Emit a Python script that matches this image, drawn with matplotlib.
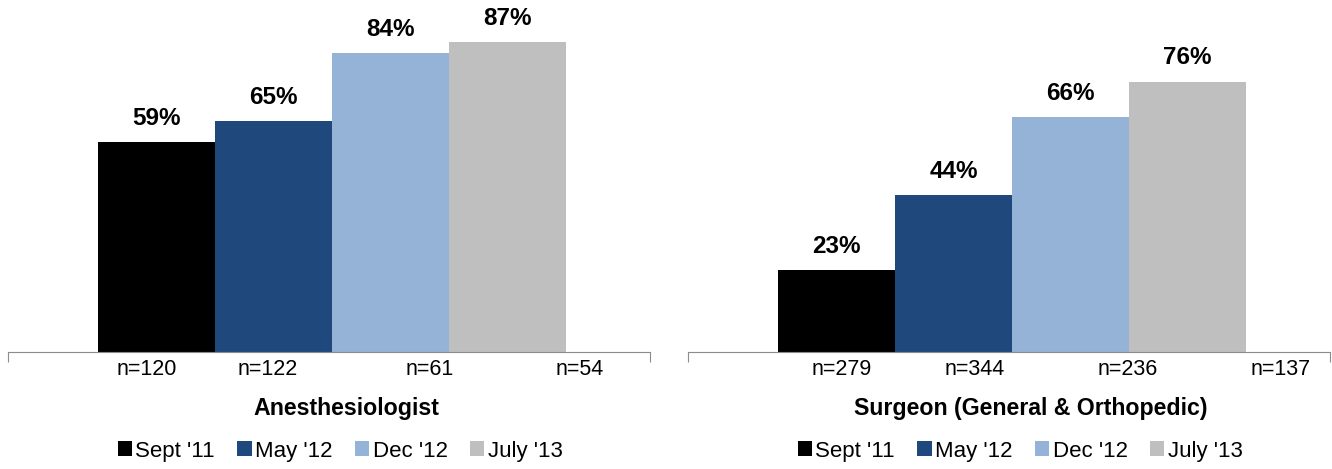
import matplotlib
matplotlib.use("Agg")
from matplotlib import pyplot as plt
from matplotlib.patches import Patch

plt.rcParams["font.family"] = ["Liberation Sans", "DejaVu Sans"]

periods = ["Sept '11", "May '12", "Dec '12", "July '13"]
colors = ["#000000", "#1F497D", "#95B3D7", "#BFBFBF"]

groups = ["Anesthesiologist", "Surgeon (General & Orthopedic)"]
anes_pct = [59, 65, 84, 87]
surg_pct = [23, 44, 66, 76]
anes_n = [120, 122, 61, 54]
surg_n = [279, 344, 236, 137]

# where the n= labels sit along each axis (bar-width units)
anes_n_x = [1.19, 2.22, 3.61, 4.89]
surg_n_x = [1.31, 2.45, 3.76, 5.07]

W, H = 1332, 469
fig = plt.figure(figsize=(W / 100, H / 100), dpi=100)

panels = [
    (groups[0], anes_pct, anes_n, anes_n_x, 8, 346, 340),
    (groups[1], surg_pct, surg_n, surg_n_x, 688, 1031, 1020),
]

for title, pct, ns, nx, left_px, title_px, leg_px in panels:
    ax = fig.add_axes([left_px / W, (H - 352) / H, 642 / W, 352 / H])
    xs = [1.27 + i for i in range(len(pct))]
    ax.bar(xs, pct, width=1.0, color=colors, edgecolor="none")
    for x, v in zip(xs, pct):
        ax.text(x, v + 4.8, f"{v}%", ha="center", va="baseline",
                fontsize=17.5, fontweight="bold")
    for x, n in zip(nx, ns):
        ax.text(x, -4.8, f"n={n}", ha="center", va="center",
                fontsize=15.5, clip_on=False)
    ax.set_xlim(0, 5.49)
    ax.set_ylim(0, 98.9)
    for s in ["top", "right", "left"]:
        ax.spines[s].set_visible(False)
    ax.spines["bottom"].set_color("#8C8C8C")
    ax.set_yticks([])
    ax.set_xticks([0, 5.49])
    ax.set_xticklabels([])
    ax.tick_params(axis="x", direction="out", length=7, color="#8C8C8C")

    fig.text(title_px / W, 1 - 415 / H, title, ha="center", va="baseline",
             fontsize=16.7, fontweight="bold")

    handles = [Patch(facecolor=c, edgecolor="none") for c in colors]
    fig.legend(handles, periods, loc="center", ncol=4, frameon=False,
               bbox_to_anchor=(leg_px / W, 1 - 451 / H), fontsize=16,
               handlelength=0.65, handleheight=0.65, handletextpad=0.15,
               columnspacing=1.0, borderpad=0, borderaxespad=0)

fig.savefig("out.png", dpi=100)
